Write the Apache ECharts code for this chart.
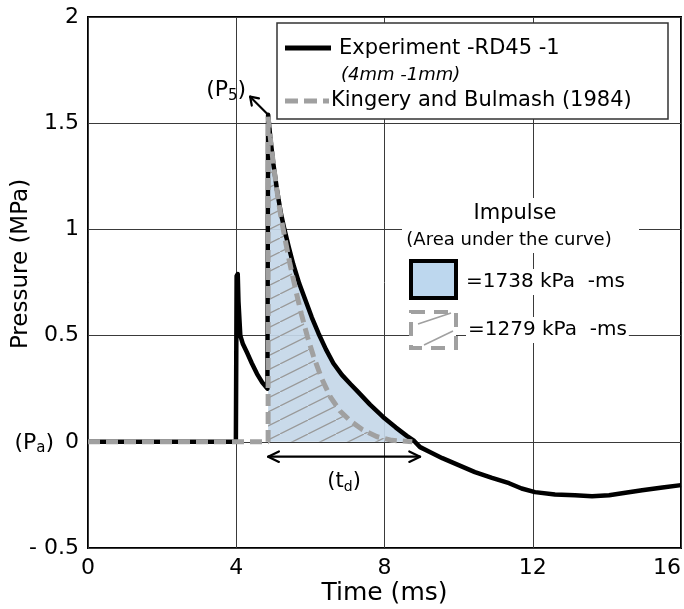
<!DOCTYPE html>
<html>
<head>
<meta charset="utf-8">
<script src="https://cdn.jsdelivr.net/npm/echarts@6/dist/echarts.min.js"></script>
<style>
  html, body { margin: 0; padding: 0; background: #fff; }
  #chart { width: 684px; height: 609px; }
</style>
</head>
<body>
<div id="chart"></div>
<script>
const FONT = 'DejaVu Sans';

// Measured blast trace, RD45-1 (time in ms, pressure in MPa)
const expTime = [0, 3.99, 4.01, 4.04, 4.06, 4.11, 4.18, 4.29, 4.42, 4.56, 4.70, 4.84,
  4.86, 4.92, 5.00, 5.10, 5.20, 5.30, 5.42, 5.54, 5.70, 5.86, 6.04, 6.22, 6.42, 6.62,
  6.85, 7.08, 7.26, 7.61, 7.96, 8.30, 8.60, 8.80, 8.96, 9.25, 9.56, 10.00, 10.44, 10.90,
  11.36, 11.70, 12.06, 12.60, 13.14, 13.60, 14.06, 14.50, 14.95, 15.50, 16.00];
const expPressure = [0, 0, 0.78, 0.79, 0.66, 0.50, 0.46, 0.42, 0.37, 0.32, 0.28, 0.25,
  1.54, 1.43, 1.31, 1.185, 1.08, 1.00, 0.915, 0.835, 0.745, 0.67, 0.585, 0.51, 0.435, 0.37,
  0.315, 0.272, 0.24, 0.175, 0.117, 0.068, 0.028, 0.004, -0.025, -0.05, -0.077, -0.11, -0.143, -0.17,
  -0.195, -0.22, -0.237, -0.248, -0.252, -0.256, -0.252, -0.24, -0.228, -0.215, -0.204];

// Kingery & Bulmash (1984) prediction
const kbTime = [0, 4.86, 4.86, 4.92, 5.00, 5.10, 5.20, 5.31, 5.44, 5.61, 5.76, 5.92, 6.08,
  6.30, 6.54, 6.80, 7.08, 7.40, 7.80, 8.20, 8.75];
const kbPressure = [0, 0, 1.53, 1.43, 1.31, 1.18, 1.065, 0.96, 0.845, 0.71, 0.60, 0.495, 0.405,
  0.30, 0.211, 0.145, 0.098, 0.058, 0.024, 0.007, 0];

const arrivalTime = 4.86;     // shock arrival of the main pulse
const positiveEnd = 8.96;     // end of the positive phase (t_d)
const impulseTexts = ['=1738 kPa  -ms', '=1279 kPa  -ms'];
const legendNames = ['Experiment -RD45 -1', '(4mm -1mm)', 'Kingery and Bulmash (1984)'];

const expPoints = expTime.map((t, i) => [t, expPressure[i]]);
const kbPoints = kbTime.map((t, i) => [t, kbPressure[i]]);

// positive phase of the measured trace, from arrival to the first zero crossing
const fillPoints = [];
for (let i = 0; i < expTime.length; i++) {
  if (expTime[i] < arrivalTime) continue;
  if (expPressure[i] < 0) break;
  fillPoints.push([expTime[i], expPressure[i]]);
}

function hatchTile() {
  const c = document.createElement('canvas');
  c.width = 28; c.height = 14;
  const g = c.getContext('2d');
  g.strokeStyle = '#9a9a9a';
  g.lineWidth = 1.3;
  g.beginPath();
  g.moveTo(-2, 15); g.lineTo(30, -1);
  g.stroke();
  return c;
}

const chart = echarts.init(document.getElementById('chart'), null, { renderer: 'canvas' });

const axisText = { fontFamily: FONT, color: '#000' };

chart.setOption({
  animation: false,
  grid: {
    left: 88, right: 3, top: 17, bottom: 61,
    show: true, borderColor: '#000', borderWidth: 2,
    outerBoundsMode: 'none'
  },
  xAxis: {
    type: 'value', min: 0, max: 16, interval: 4,
    name: 'Time (ms)', nameLocation: 'middle', nameGap: 33,
    nameMoveOverlap: false,
    nameTextStyle: Object.assign({ fontSize: 25 }, axisText),
    axisLine: { show: false }, axisTick: { show: false },
    axisLabel: Object.assign({ fontSize: 22, margin: 9, alignMaxLabel: 'right' }, axisText),
    splitLine: { show: true, lineStyle: { color: '#3a3a3a', width: 1 } }
  },
  yAxis: {
    type: 'value', min: -0.5, max: 2, interval: 0.5,
    axisLine: { show: false }, axisTick: { show: false },
    axisLabel: Object.assign({
      fontSize: 22, margin: 9,
      formatter: v => (v < 0 ? '- ' + Math.abs(v) : String(v))
    }, axisText),
    splitLine: { show: true, lineStyle: { color: '#3a3a3a', width: 1 } }
  },
  series: [
    {
      name: 'Experiment impulse', type: 'line', data: fillPoints, symbol: 'none',
      lineStyle: { width: 0, opacity: 0 },
      areaStyle: { color: '#c4d7e8', opacity: 0.92 },
      silent: true, z: 1
    },
    {
      name: 'Kingery and Bulmash impulse', type: 'line', data: kbPoints, symbol: 'none',
      lineStyle: { width: 0, opacity: 0 },
      areaStyle: { color: { image: hatchTile(), repeat: 'repeat' }, opacity: 1 },
      silent: true, z: 2
    },
    {
      name: legendNames[0], type: 'line', data: expPoints, symbol: 'none',
      lineStyle: { color: '#000', width: 4.5, join: 'round' }, z: 3
    },
    {
      name: legendNames[2], type: 'line', data: kbPoints, symbol: 'none',
      lineStyle: { color: '#a0a0a0', width: 5, type: [12, 6] }, z: 4
    }
  ]
});

const toPx = (t, p) => chart.convertToPixel({ seriesIndex: 2 }, [t, p]);

function arrowHead(tip, dir, len, spread) {
  // dir: unit vector pointing toward the tip
  const back = [-dir[0], -dir[1]];
  const out = [];
  [spread, -spread].forEach(a => {
    const c = Math.cos(a), s = Math.sin(a);
    const v = [back[0] * c - back[1] * s, back[0] * s + back[1] * c];
    out.push({
      type: 'line', silent: true,
      shape: { x1: tip[0], y1: tip[1], x2: tip[0] + v[0] * len, y2: tip[1] + v[1] * len },
      style: { stroke: '#000', lineWidth: 2.2, lineCap: 'round' }, z: 50
    });
  });
  return out;
}

function subText(main, sub, tail, size, style) {
  return {
    type: 'text', silent: true, z: 50,
    style: Object.assign({
      text: '{n|' + main + '}{s|' + sub + '}{n|' + tail + '}',
      rich: {
        n: { fontSize: size, fontFamily: FONT, lineHeight: size + 4, fill: '#000' },
        s: { fontSize: Math.round(size * 0.68), fontFamily: FONT, lineHeight: size - 2,
             verticalAlign: 'bottom', fill: '#000' }
      },
      fill: '#000', verticalAlign: 'middle'
    }, style)
  };
}

const peak = toPx(arrivalTime, expPressure[expTime.indexOf(arrivalTime)]);
const tip = [peak[0] - 18, peak[1] - 18];
const dirP = [-Math.SQRT1_2, -Math.SQRT1_2];

const tdY = toPx(0, -0.07)[1];
const tdA = toPx(arrivalTime, 0)[0];
const tdB = toPx(positiveEnd, 0)[0];
const zeroY = toPx(0, 0)[1];

const txt = (text, x, y, size, extra) => ({
  type: 'text', silent: true, z: 40,
  style: Object.assign({
    text, x, y, fontSize: size, fontFamily: FONT, fill: '#000',
    align: 'left', verticalAlign: 'middle'
  }, extra || {})
});

const graphics = [
  // y axis title
  { type: 'text', silent: true, z: 40, x: 21, y: 264, rotation: Math.PI / 2,
    style: { text: 'Pressure (MPa)', fontSize: 23, fontFamily: FONT, fill: '#000',
             align: 'center', verticalAlign: 'middle' } },

  // legend
  { type: 'rect', silent: true, z: 30, shape: { x: 277, y: 23, width: 391, height: 96 },
    style: { fill: '#fff', stroke: '#333', lineWidth: 1.5 } },
  { type: 'line', silent: true, z: 31, shape: { x1: 285, y1: 48, x2: 331, y2: 48 },
    style: { stroke: '#000', lineWidth: 5 } },
  txt(legendNames[0], 339, 49, 21),
  txt(legendNames[1], 341, 75, 18, { fontStyle: 'italic' }),
  { type: 'line', silent: true, z: 31, shape: { x1: 285, y1: 101, x2: 329, y2: 101 },
    style: { stroke: '#a0a0a0', lineWidth: 5, lineDash: [13, 6] } },
  txt(legendNames[2], 331, 101, 21),

  // impulse annotation
  { type: 'rect', silent: true, z: 30, shape: { x: 402, y: 198, width: 237, height: 55 },
    style: { fill: '#fff' } },
  txt('Impulse', 515, 214, 21, { align: 'center' }),
  txt('(Area under the curve)', 509, 240, 18, { align: 'center' }),
  { type: 'rect', silent: true, z: 31, shape: { x: 411, y: 261, width: 45, height: 37 },
    style: { fill: '#bdd7ee', stroke: '#000', lineWidth: 4 } },
  txt(impulseTexts[0], 464, 282, 20, { backgroundColor: '#fff', padding: [3, 2, 3, 2] }),
  { type: 'rect', silent: true, z: 31, shape: { x: 411, y: 312, width: 45, height: 36 },
    style: { fill: '#fff', stroke: '#a0a0a0', lineWidth: 4, lineDash: [14, 9] } },
  { type: 'line', silent: true, z: 32, shape: { x1: 418, y1: 324, x2: 451, y2: 313 },
    style: { stroke: '#a0a0a0', lineWidth: 1.5 } },
  { type: 'line', silent: true, z: 32, shape: { x1: 424, y1: 345, x2: 453, y2: 331 },
    style: { stroke: '#a0a0a0', lineWidth: 1.5 } },
  txt(impulseTexts[1], 466, 330, 20, { backgroundColor: '#fff', padding: [3, 2, 3, 2] }),

  // peak pressure marker
  { type: 'line', silent: true, z: 50,
    shape: { x1: peak[0] - 1, y1: peak[1] - 1, x2: tip[0], y2: tip[1] },
    style: { stroke: '#000', lineWidth: 2.2 } },
  ...arrowHead(tip, dirP, 9, 0.6),
  subText('(P', '5', ')', 22, { x: tip[0] - 4, y: tip[1] - 6, align: 'right' }),

  // ambient pressure
  subText('(P', 'a', ')', 22, { x: 54, y: zeroY + 1, align: 'right' }),

  // positive phase duration
  { type: 'line', silent: true, z: 50, shape: { x1: tdA, y1: tdY, x2: tdB, y2: tdY },
    style: { stroke: '#000', lineWidth: 2.2 } },
  ...arrowHead([tdA, tdY], [-1, 0], 12, 0.45),
  ...arrowHead([tdB, tdY], [1, 0], 12, 0.45),
  subText('(t', 'd', ')', 21, { x: (tdA + tdB) / 2, y: tdY + 25, align: 'center' })
];

chart.setOption({ graphic: graphics });
</script>
</body>
</html>
